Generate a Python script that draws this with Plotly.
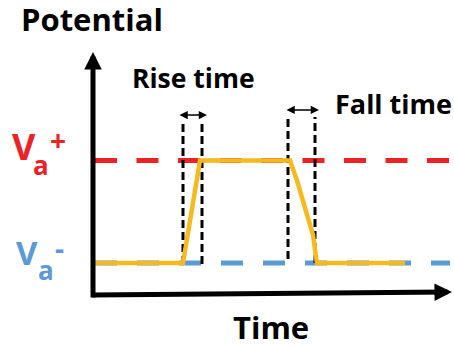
import plotly.graph_objects as go

# ---- data (time in arbitrary units, potential normalised: Va- = 0, Va+ = 1) ----
signal_t = [0.2, 9.0, 10.7, 19.7, 20.4, 21.0, 21.6, 22.0, 22.2, 22.4, 31.2]
signal_v = [0.0, 0.0, 1.0, 1.0, 0.805, 0.615, 0.42, 0.273, 0.127, 0.0, 0.0]

va_plus = 1.0
va_minus = 0.0
level_t = [0.2, 35.7]

rise_t = [9.0, 10.9]
rise_v = [-0.01, 1.395]
rise_arrow_v = 1.444
rise_arrow_t = [8.5, 11.4]

fall_t = [19.5, 22.2]
fall_v_bottom = [0.04, 0.0]
fall_v_top = 1.424
fall_arrow_v = 1.493
fall_arrow_t = [19.2, 22.6]

axis_origin = (0.0, -0.351)
axis_y_top = 2.059
axis_x_start = (-0.2, -0.312)
axis_x_end = (35.9, -0.283)

labels = {"title_y": "Potential", "title_x": "Time", "rise": "Rise time", "fall": "Fall time"}

# ---- styles ----
RED = "#EC2227"
BLUE = "#5B9BD5"
YELLOW = "#F6BA1F"
FONT = "Open Sans"
W, H = 454, 347

fig = go.Figure()

# reference levels
fig.add_trace(go.Scatter(x=level_t, y=[va_plus, va_plus], mode="lines",
                         line=dict(color=RED, width=5, dash="22px,19.5px"), hoverinfo="skip"))
fig.add_trace(go.Scatter(x=level_t, y=[va_minus, va_minus], mode="lines",
                         line=dict(color=BLUE, width=5, dash="22px,20px"), hoverinfo="skip"))

# vertical dashed markers
for t in rise_t:
    fig.add_trace(go.Scatter(x=[t, t], y=rise_v, mode="lines",
                             line=dict(color="black", width=3, dash="8px,4px"), hoverinfo="skip"))
for t, vb in zip(fall_t, fall_v_bottom):
    fig.add_trace(go.Scatter(x=[t, t], y=[vb, fall_v_top], mode="lines",
                             line=dict(color="black", width=3, dash="8px,4px"), hoverinfo="skip"))

# signal
fig.add_trace(go.Scatter(x=signal_t, y=signal_v, mode="lines",
                         line=dict(color=YELLOW, width=4.5, shape="linear"),
                         hoverinfo="skip"))

ann = []
# axes arrows
ann.append(dict(x=axis_origin[0], y=axis_y_top, ax=axis_origin[0], ay=axis_origin[1],
                xref="x", yref="y", axref="x", ayref="y", text="", showarrow=True,
                arrowhead=2, arrowsize=0.7, arrowwidth=5, arrowcolor="black", standoff=0, startstandoff=0))
ann.append(dict(x=axis_x_end[0], y=axis_x_end[1], ax=axis_x_start[0], ay=axis_x_start[1],
                xref="x", yref="y", axref="x", ayref="y", text="", showarrow=True,
                arrowhead=2, arrowsize=0.7, arrowwidth=5, arrowcolor="black", standoff=0, startstandoff=0))
# double arrows
for (t0, t1), v in [(rise_arrow_t, rise_arrow_v), (fall_arrow_t, fall_arrow_v)]:
    ann.append(dict(x=t1, y=v, ax=t0, ay=v, xref="x", yref="y", axref="x", ayref="y",
                    text="", showarrow=True, arrowhead=2, startarrowhead=2, arrowside="end+start",
                    arrowsize=1.1, startarrowsize=1.1, arrowwidth=1.5, arrowcolor="black"))


def lab(text, px, py, size, color="black"):
    return dict(x=px / W, y=1 - py / H, xref="paper", yref="paper", text=text, showarrow=False,
                xanchor="center", yanchor="middle",
                font=dict(family=FONT, size=size, color=color, weight="bold"))


ann.append(lab(labels["title_y"], 92, 19, 31))
ann.append(lab(labels["rise"], 193, 78, 26.5))
ann.append(lab(labels["fall"], 393, 104, 27))
ann.append(lab(labels["title_x"], 271, 327, 31))
# Va+ / Va-
ann.append(lab("V", 24, 146, 36, RED))
ann.append(lab("a", 41, 165, 26, RED))
ann.append(lab("+", 58, 140, 28, RED))
ann.append(lab("V", 27, 252, 33, BLUE))
ann.append(lab("a", 46, 270, 26, BLUE))
ann.append(lab("-", 59, 248, 28, BLUE))

fig.update_layout(
    width=W, height=H, margin=dict(l=0, r=0, t=0, b=0),
    paper_bgcolor="white", plot_bgcolor="white", showlegend=False,
    xaxis=dict(range=[-9.3, 36.1], visible=False, fixedrange=True),
    yaxis=dict(range=[-0.8195, 2.566], visible=False, fixedrange=True),
    annotations=ann,
)

fig.write_html("out.html", config={"displayModeBar": False},
               post_script="document.body.style.margin='0';document.body.style.padding='0';")
